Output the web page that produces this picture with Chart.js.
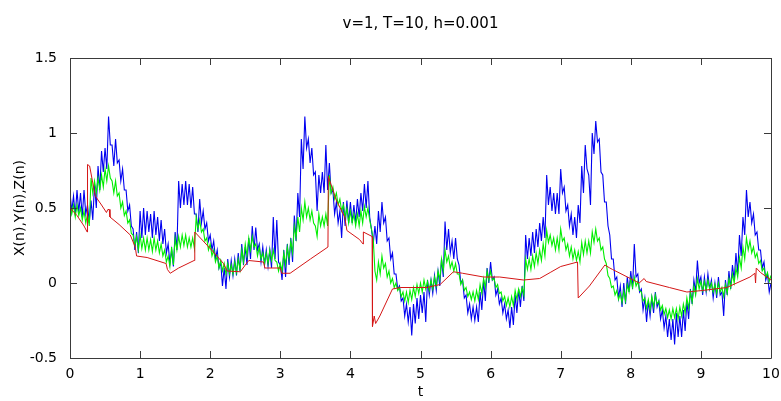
<!DOCTYPE html>
<html>
<head>
<meta charset="utf-8">
<script src="https://cdn.jsdelivr.net/npm/chart.js@4/dist/chart.umd.min.js"></script>
<style>
  body { margin: 0; background: #fff; }
  #wrap { width: 781px; height: 401px; }
</style>
</head>
<body>
<div id="wrap"><canvas id="grafica" width="781" height="401"></canvas></div>
<script>
// samples every 0.05 in t; the noisy curves are read as upper/lower edge of their band
var PASO = 0.05;

// X(n) - blue, upper edge
var azulSup = [
  0.60, 0.58, 0.62, 0.60, 0.62, 0.52, 0.55, 0.66, 0.78, 0.88,
  0.90, 1.11, 0.92, 0.96, 0.82, 0.76, 0.62, 0.52, 0.36, 0.34,
  0.48, 0.50, 0.48, 0.46, 0.48, 0.44, 0.42, 0.36, 0.26, 0.22,
  0.34, 0.68, 0.66, 0.68, 0.66, 0.64, 0.46, 0.56, 0.48, 0.40,
  0.32, 0.28, 0.22, 0.14, 0.10, 0.16, 0.15, 0.16, 0.20, 0.26,
  0.24, 0.30, 0.38, 0.37, 0.26, 0.24, 0.22, 0.22, 0.44, 0.42,
  0.12, 0.22, 0.26, 0.30, 0.45, 0.60, 0.96, 1.11, 0.96, 0.90,
  0.74, 0.72, 0.74, 0.92, 0.80, 0.62, 0.54, 0.48, 0.54, 0.55,
  0.54, 0.52, 0.56, 0.60, 0.66, 0.68, 0.36, 0.38, 0.48, 0.54,
  0.44, 0.30, 0.20, 0.06, -0.02, -0.10, -0.14, -0.16, -0.14, -0.10,
  -0.08, -0.06, 0.02, 0.02, 0.05, 0.08, 0.16, 0.41, 0.36, 0.28,
  0.30, 0.12, 0.02, -0.08, -0.14, -0.16, -0.16, -0.06, 0.02, 0.10,
  0.14, 0.04, -0.04, -0.10, -0.14, -0.18, -0.16, -0.08, -0.04, -0.02,
  0.32, 0.30, 0.34, 0.36, 0.40, 0.44, 0.72, 0.64, 0.60, 0.60,
  0.76, 0.64, 0.52, 0.46, 0.44, 0.52, 0.78, 0.92, 0.72, 1.00,
  1.08, 0.96, 0.72, 0.54, 0.32, 0.16, 0.04, -0.02, 0.00, 0.04,
  0.08, 0.26, 0.06, -0.04, -0.10, -0.12, -0.10, -0.06, -0.12, -0.18,
  -0.22, -0.24, -0.24, -0.20, -0.22, -0.18, -0.12, -0.04, 0.02, 0.15,
  0.04, 0.04, 0.06, 0.02, 0.00, 0.04, -0.06, 0.02, 0.08, 0.12,
  0.20, 0.32, 0.44, 0.62, 0.54, 0.46, 0.34, 0.22, 0.14, 0.06,
  0.00
];
// X(n) - blue, lower edge
var azulInf = [
  0.48, 0.45, 0.47, 0.44, 0.46, 0.40, 0.42, 0.50, 0.62, 0.74,
  0.76, 0.92, 0.78, 0.80, 0.68, 0.62, 0.48, 0.38, 0.22, 0.20,
  0.30, 0.32, 0.34, 0.30, 0.32, 0.28, 0.26, 0.20, 0.13, 0.11,
  0.22, 0.50, 0.52, 0.52, 0.50, 0.46, 0.34, 0.40, 0.36, 0.28,
  0.22, 0.16, 0.10, -0.02, -0.04, 0.04, 0.05, 0.05, 0.08, 0.12,
  0.12, 0.16, 0.22, 0.22, 0.14, 0.12, 0.11, 0.10, 0.16, 0.14,
  0.02, 0.04, 0.12, 0.14, 0.28, 0.44, 0.76, 0.90, 0.80, 0.72,
  0.48, 0.60, 0.60, 0.62, 0.60, 0.46, 0.40, 0.30, 0.38, 0.40,
  0.40, 0.40, 0.44, 0.48, 0.50, 0.44, 0.26, 0.26, 0.34, 0.40,
  0.28, 0.16, 0.06, -0.04, -0.12, -0.22, -0.26, -0.35, -0.27, -0.24,
  -0.20, -0.26, -0.08, -0.07, -0.05, -0.02, 0.04, 0.22, 0.20, 0.16,
  0.16, 0.00, -0.10, -0.20, -0.24, -0.25, -0.26, -0.18, -0.12, 0.00,
  0.02, -0.08, -0.14, -0.20, -0.24, -0.30, -0.28, -0.20, -0.16, -0.12,
  0.16, 0.18, 0.20, 0.24, 0.28, 0.30, 0.52, 0.48, 0.46, 0.46,
  0.60, 0.48, 0.38, 0.32, 0.30, 0.40, 0.60, 0.76, 0.52, 0.86,
  0.94, 0.74, 0.54, 0.38, 0.16, 0.02, -0.10, -0.16, -0.14, -0.06,
  -0.04, 0.04, -0.06, -0.18, -0.26, -0.22, -0.20, -0.16, -0.24, -0.30,
  -0.36, -0.38, -0.41, -0.36, -0.36, -0.32, -0.24, -0.14, -0.06, 0.00,
  -0.08, -0.06, -0.04, -0.10, -0.10, -0.08, -0.22, -0.08, -0.04, 0.02,
  0.06, 0.18, 0.32, 0.44, 0.40, 0.32, 0.22, 0.10, 0.02, -0.06,
  -0.12
];

// Y(n) - green, upper edge
var verdeSup = [
  0.54, 0.52, 0.52, 0.50, 0.48, 0.46, 0.70, 0.68, 0.70, 0.72,
  0.76, 0.78, 0.68, 0.68, 0.60, 0.54, 0.48, 0.42, 0.32, 0.31,
  0.32, 0.30, 0.30, 0.29, 0.30, 0.28, 0.26, 0.22, 0.18, 0.24,
  0.30, 0.31, 0.32, 0.32, 0.30, 0.30, 0.44, 0.42, 0.36, 0.30,
  0.26, 0.22, 0.18, 0.15, 0.13, 0.13, 0.12, 0.14, 0.16, 0.22,
  0.26, 0.30, 0.31, 0.26, 0.24, 0.20, 0.20, 0.22, 0.22, 0.14,
  0.13, 0.20, 0.24, 0.28, 0.38, 0.44, 0.50, 0.54, 0.50, 0.48,
  0.38, 0.46, 0.44, 0.46, 0.72, 0.64, 0.60, 0.56, 0.52, 0.50,
  0.48, 0.46, 0.46, 0.48, 0.51, 0.50, 0.36, 0.08, 0.14, 0.18,
  0.13, 0.08, 0.03, 0.00, -0.03, -0.06, -0.06, -0.05, -0.03, -0.01,
  0.00, 0.02, 0.01, 0.02, 0.04, 0.08, 0.16, 0.22, 0.18, 0.14,
  0.13, 0.06, 0.02, -0.03, -0.06, -0.06, -0.05, -0.01, 0.03, 0.08,
  0.08, 0.03, -0.01, -0.06, -0.09, -0.10, -0.09, -0.05, -0.04, -0.03,
  0.16, 0.16, 0.18, 0.20, 0.22, 0.26, 0.35, 0.32, 0.30, 0.30,
  0.36, 0.30, 0.26, 0.24, 0.22, 0.21, 0.27, 0.28, 0.28, 0.34,
  0.36, 0.30, 0.24, 0.13, 0.03, -0.02, -0.05, -0.07, -0.05, -0.01,
  0.03, 0.04, 0.01, -0.06, -0.10, -0.11, -0.09, -0.08, -0.12, -0.15,
  -0.17, -0.18, -0.17, -0.17, -0.16, -0.14, -0.10, -0.06, -0.02, 0.03,
  0.01, 0.01, 0.02, 0.00, -0.01, 0.00, -0.03, -0.01, 0.03, 0.06,
  0.10, 0.17, 0.24, 0.30, 0.28, 0.24, 0.20, 0.15, 0.10, 0.07,
  0.05
];
// Y(n) - green, lower edge
var verdeInf = [
  0.46, 0.44, 0.45, 0.42, 0.40, 0.38, 0.60, 0.60, 0.62, 0.64,
  0.68, 0.70, 0.60, 0.58, 0.50, 0.45, 0.40, 0.33, 0.25, 0.22,
  0.23, 0.22, 0.22, 0.21, 0.22, 0.20, 0.18, 0.14, 0.11, 0.12,
  0.22, 0.24, 0.25, 0.24, 0.24, 0.23, 0.36, 0.34, 0.28, 0.22,
  0.18, 0.14, 0.10, 0.08, 0.06, 0.06, 0.06, 0.07, 0.09, 0.14,
  0.18, 0.22, 0.24, 0.18, 0.16, 0.13, 0.13, 0.15, 0.15, 0.08,
  0.08, 0.12, 0.16, 0.20, 0.30, 0.34, 0.42, 0.44, 0.42, 0.40,
  0.31, 0.38, 0.38, 0.38, 0.60, 0.56, 0.52, 0.48, 0.44, 0.40,
  0.40, 0.38, 0.38, 0.40, 0.44, 0.42, 0.30, 0.02, 0.06, 0.10,
  0.04, 0.00, -0.03, -0.05, -0.09, -0.12, -0.13, -0.11, -0.09, -0.07,
  -0.06, -0.04, -0.05, -0.04, -0.02, 0.02, 0.08, 0.14, 0.10, 0.08,
  0.06, -0.01, -0.05, -0.09, -0.11, -0.12, -0.11, -0.07, -0.03, 0.02,
  0.02, -0.03, -0.07, -0.12, -0.15, -0.16, -0.15, -0.11, -0.09, -0.08,
  0.09, 0.09, 0.11, 0.13, 0.15, 0.18, 0.27, 0.25, 0.22, 0.22,
  0.28, 0.22, 0.18, 0.16, 0.15, 0.14, 0.19, 0.20, 0.20, 0.27,
  0.28, 0.22, 0.16, 0.05, -0.03, -0.08, -0.11, -0.13, -0.12, -0.06,
  -0.03, -0.02, -0.05, -0.12, -0.17, -0.18, -0.16, -0.14, -0.18, -0.21,
  -0.23, -0.24, -0.23, -0.24, -0.22, -0.20, -0.17, -0.13, -0.08, -0.04,
  -0.05, -0.05, -0.04, -0.06, -0.07, -0.06, -0.09, -0.07, -0.03, 0.00,
  0.04, 0.10, 0.16, 0.22, 0.20, 0.17, 0.13, 0.08, 0.04, 0.01,
  -0.01
];

// Z(n) - red, read as (t, value) because of the jumps
var tiemposZ = [
  0, 0.10, 0.20, 0.245, 0.25, 0.28, 0.36, 0.45, 0.52, 0.54, 0.56, 0.57,
  0.70, 0.86, 0.93, 0.95, 1.10, 1.37, 1.39, 1.43, 1.55, 1.77, 1.78, 1.90,
  2.02, 2.19, 2.24, 2.43, 2.50, 2.55, 2.76, 2.78, 3.00, 3.02, 3.14, 3.43,
  3.68, 3.685, 3.80, 3.92, 3.95, 4.13, 4.18, 4.185, 4.31, 4.315, 4.34, 4.36,
  4.42, 4.60, 4.71, 5.09, 5.28, 5.47, 5.60, 5.90, 6.13, 6.47, 6.70, 6.85,
  7.00, 7.24, 7.25, 7.41, 7.63, 7.70, 7.74, 8.12, 8.19, 8.22, 8.55, 8.80,
  9.02, 9.37, 9.70, 9.77, 9.78, 9.79, 9.85, 10.0
];
var serieZ = [
  0.50, 0.45, 0.38, 0.34, 0.79, 0.78, 0.58, 0.52, 0.47, 0.49, 0.49, 0.44,
  0.39, 0.32, 0.24, 0.18, 0.17, 0.13, 0.09, 0.065, 0.10, 0.15, 0.34, 0.28,
  0.22, 0.13, 0.08, 0.075, 0.12, 0.15, 0.14, 0.10, 0.10, 0.065, 0.065, 0.16,
  0.24, 0.71, 0.55, 0.44, 0.35, 0.29, 0.26, 0.34, 0.31, -0.29, -0.22, -0.27,
  -0.22, -0.04, -0.03, -0.03, -0.01, 0.075, 0.065, 0.04, 0.04, 0.02, 0.03, 0.07,
  0.11, 0.14, -0.10, -0.02, 0.12, 0.10, 0.09, 0.00, 0.03, 0.01, -0.03, -0.06,
  -0.05, -0.03, 0.04, 0.065, 0.00, 0.10, 0.07, 0.02
];

var TITULO = "v=1, T=10, h=0.001";
var ETIQUETA_X = "t";
var ETIQUETA_Y = "X(n),Y(n),Z(n)";
var FUENTE = "'DejaVu Sans', 'Liberation Sans', sans-serif";

// alternates the upper and lower edge readings so the line fills its band
function banda(sup, inf) {
    var pts = [];
    for (var i = 0; i < sup.length; i++) {
        var t = +(i * PASO).toFixed(3);
        pts.push({ x: t, y: sup[i] });
        if (i < sup.length - 1) pts.push({ x: +(t + PASO / 2).toFixed(4), y: inf[i] });
    }
    return pts;
}

// MATLAB style frame with inward ticks on all four sides
var marcoMatlab = {
    id: "marcoMatlab",
    afterDraw: function (chart) {
        var c = chart.ctx;
        var a = chart.chartArea;
        var sx = chart.scales.x, sy = chart.scales.y;
        var largo = 7;
        c.save();
        c.strokeStyle = "#3a3a3a";
        c.lineWidth = 1;
        c.beginPath();
        c.rect(Math.round(a.left) + 0.5, Math.round(a.top) + 0.5,
               Math.round(a.right - a.left), Math.round(a.bottom - a.top));
        sx.ticks.forEach(function (t) {
            var px = Math.round(sx.getPixelForValue(t.value)) + 0.5;
            c.moveTo(px, a.bottom); c.lineTo(px, a.bottom - largo);
            c.moveTo(px, a.top); c.lineTo(px, a.top + largo);
        });
        sy.ticks.forEach(function (t) {
            var py = Math.round(sy.getPixelForValue(t.value)) + 0.5;
            c.moveTo(a.left, py); c.lineTo(a.left + largo, py);
            c.moveTo(a.right, py); c.lineTo(a.right - largo, py);
        });
        c.stroke();
        c.restore();
    }
};

var lienzo = document.getElementById("grafica").getContext("2d");
var grafica = new Chart(lienzo, {
    type: "line",
    data: {
        datasets: [
            {
                label: "X(n)",
                data: banda(azulSup, azulInf),
                borderColor: "#0000f0",
                borderWidth: 1.1,
                pointRadius: 0,
                order: 3
            },
            {
                label: "Y(n)",
                data: banda(verdeSup, verdeInf),
                borderColor: "#00ee00",
                borderWidth: 1.1,
                pointRadius: 0,
                order: 2
            },
            {
                label: "Z(n)",
                data: tiemposZ.map(function (t, i) { return { x: t, y: serieZ[i] }; }),
                borderColor: "#d41616",
                borderWidth: 1,
                pointRadius: 0,
                order: 1
            }
        ]
    },
    options: {
        responsive: false,
        animation: false,
        layout: { padding: { left: 0, right: 10, top: 0, bottom: 0 } },
        plugins: {
            legend: { display: false },
            tooltip: { enabled: false },
            title: {
                display: true,
                fullSize: false,
                text: TITULO,
                color: "#000",
                font: { family: FUENTE, size: 15, weight: "normal" },
                padding: { top: 15, bottom: 25 }
            }
        },
        scales: {
            x: {
                type: "linear",
                min: 0,
                max: 10,
                border: { display: false },
                grid: { display: false },
                ticks: {
                    stepSize: 1,
                    color: "#000",
                    padding: 0,
                    maxRotation: 0,
                    font: { family: FUENTE, size: 14 }
                },
                title: {
                    display: true,
                    text: ETIQUETA_X,
                    color: "#000",
                    font: { family: FUENTE, size: 14 },
                    padding: { top: 0, bottom: 0 }
                },
                afterFit: function (s) { s.height = 43; }
            },
            y: {
                min: -0.5,
                max: 1.5,
                border: { display: false },
                grid: { display: false },
                ticks: {
                    stepSize: 0.5,
                    color: "#000",
                    padding: 5,
                    font: { family: FUENTE, size: 14 },
                    callback: function (v) { return String(+v.toFixed(1)); }
                },
                title: {
                    display: true,
                    text: ETIQUETA_Y,
                    color: "#000",
                    font: { family: FUENTE, size: 14 },
                    padding: { top: 12, bottom: 0 }
                },
                afterFit: function (s) { s.width = 70; }
            }
        }
    },
    plugins: [marcoMatlab]
});
</script>
</body>
</html>
